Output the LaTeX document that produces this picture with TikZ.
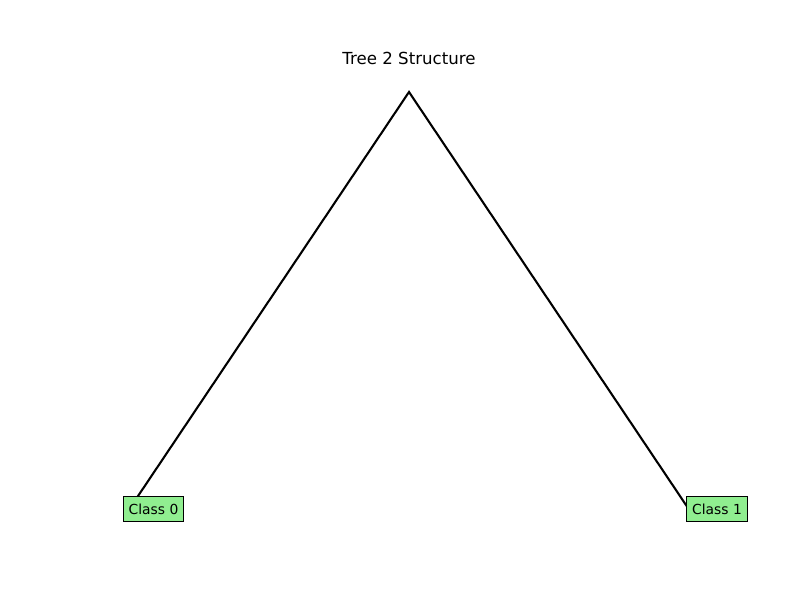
\documentclass[tikz,border=0pt]{standalone}
\usepackage{fontspec}
\setmainfont{DejaVu Sans}
\usepackage{tikz}
\definecolor{leafgreen}{HTML}{90EE90}
\tikzset{leaf/.style={draw=black,line width=0.75pt,fill=leafgreen,font=\fontsize{10}{12}\selectfont,inner xsep=4pt,inner ysep=0pt,minimum height=18.7pt}}

\begin{document}
\begin{tikzpicture}[x=0.01in,y=-0.01in]
	\useasboundingbox (0,0) rectangle (800,600);
	\node (title) at (409,58) {\fontsize{12}{14}\selectfont Tree 2 Structure};
	\coordinate (root) at (409,92);
	\coordinate (end0) at (130,508);
	\coordinate (end1) at (688,508);
	\draw[line width=1.5pt] (end0) -- (root) -- (end1);
	\node[leaf] (class0) at (153.5,509) {Class 0};
	\node[leaf] (class1) at (717,509) {Class 1};
\end{tikzpicture}
\end{document}
